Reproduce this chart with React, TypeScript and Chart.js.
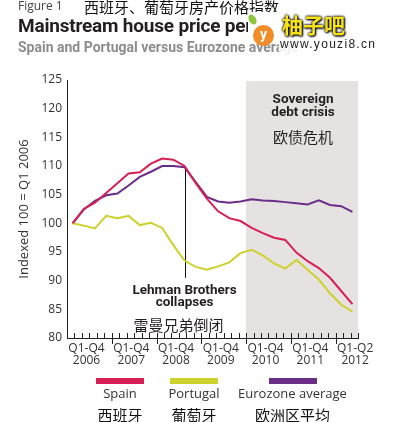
import React, { useEffect, useRef } from "react";
import { Chart, registerables } from "chart.js";

Chart.register(...registerables);

// ---- data ----
const quarters = [
  "Q1 2006", "Q2 2006", "Q3 2006", "Q4 2006",
  "Q1 2007", "Q2 2007", "Q3 2007", "Q4 2007",
  "Q1 2008", "Q2 2008", "Q3 2008", "Q4 2008",
  "Q1 2009", "Q2 2009", "Q3 2009", "Q4 2009",
  "Q1 2010", "Q2 2010", "Q3 2010", "Q4 2010",
  "Q1 2011", "Q2 2011", "Q3 2011", "Q4 2011",
  "Q1 2012", "Q2 2012",
];
const spain = [
  100, 102.5, 103.6, 105.3, 107.0, 108.7, 108.9, 110.4, 111.3, 111.1, 110.0, 107.0, 104.3,
  102.1, 100.9, 100.4, 99.2, 98.3, 97.5, 97.1, 94.9, 93.4, 92.2, 90.5, 88.2, 85.9,
];
const portugal = [
  100, 99.6, 99.1, 101.3, 100.9, 101.3, 99.7, 100.1, 99.2, 96.2, 93.5, 92.4, 91.9,
  92.5, 93.2, 94.8, 95.4, 94.4, 93.0, 92.1, 93.6, 91.9, 90.2, 87.8, 85.8, 84.6,
];
const eurozone = [
  100, 102.4, 103.9, 104.9, 105.2, 106.6, 108.1, 109.0, 110.0, 110.0, 109.8, 107.2, 104.6,
  103.8, 103.6, 103.8, 104.2, 104.0, 103.9, 103.7, 103.5, 103.3, 104.0, 103.2, 103.0, 102.0,
];
const seriesNames = ["Spain", "Portugal", "Eurozone average"];
const seriesNamesZh = ["西班牙", "葡萄牙", "欧洲区平均"];
const seriesColors = ["#d81f55", "#cdd12c", "#6a2d88"];

const yearStarts = [2006, 2007, 2008, 2009, 2010, 2011, 2012];
const yearLabelTop = ["Q1-Q4", "Q1-Q4", "Q1-Q4", "Q1-Q4", "Q1-Q4", "Q1-Q4", "Q1-Q2"];
const yearLabelBottom = ["2006", "2007", "2008", "2009", "2010", "2011", "2012"];
const xMin = 2006;
const xMax = 2012.5;
const yMin = 80;
const yMax = 125;
const yStep = 5;
const minorTicksPerYear = 6;

const crisisStart = 2010;
const lehmanQuarter = "Q3 2008";
const lehmanLineBottom = 90.5;

function quarterToX(q: string): number {
  const [qq, yy] = q.split(" ");
  return Number(yy) + (Number(qq.slice(1)) - 0.5) / 4;
}

const TXT = "#231f20";

const annotPlugin = {
  id: "annot",
  beforeDraw(chart: any) {
    const { ctx, chartArea, scales } = chart;
    const x0 = scales.x.getPixelForValue(crisisStart);
    const x1 = scales.x.getPixelForValue(xMax);
    ctx.save();
    ctx.fillStyle = "#e6e2e2";
    ctx.fillRect(x0, chartArea.top + 1, x1 - x0, chartArea.bottom - chartArea.top - 1);
    ctx.restore();
  },
  beforeDatasetsDraw(chart: any) {
    const { ctx, scales } = chart;
    const idx = quarters.indexOf(lehmanQuarter);
    const lx = Math.round(scales.x.getPixelForValue(quarterToX(lehmanQuarter))) + 0.5;
    ctx.save();
    ctx.strokeStyle = "#111";
    ctx.lineWidth = 1;
    ctx.beginPath();
    ctx.moveTo(lx, scales.y.getPixelForValue(spain[idx]));
    ctx.lineTo(lx, scales.y.getPixelForValue(lehmanLineBottom));
    ctx.stroke();
    ctx.restore();
  },
  afterDraw(chart: any) {
    const { ctx, chartArea, scales } = chart;
    const xs = scales.x;
    const bottom = chartArea.bottom;
    ctx.save();
    // axis ticks
    ctx.strokeStyle = "#222";
    ctx.lineWidth = 1;
    const nTicks = Math.round((xMax - xMin) * minorTicksPerYear);
    for (let k = 1; k <= nTicks; k++) {
      const v = xMin + k / minorTicksPerYear;
      const px = Math.round(xs.getPixelForValue(v)) + 0.5;
      const major = k % minorTicksPerYear === 0;
      ctx.beginPath();
      ctx.moveTo(px, bottom - 5);
      ctx.lineTo(px, major ? bottom + 6 : bottom);
      ctx.stroke();
    }
    // year labels
    ctx.fillStyle = "#333";
    ctx.font = "12px 'Open Sans'";
    ctx.textAlign = "center";
    ctx.textBaseline = "middle";
    yearStarts.forEach((yr, i) => {
      const cx = xs.getPixelForValue(yr) + 19.5;
      ctx.fillText(yearLabelTop[i], cx, bottom + 10.5);
      ctx.fillText(yearLabelBottom[i], cx, bottom + 23);
    });
    // annotations
    const crisisCx = (xs.getPixelForValue(crisisStart) + xs.getPixelForValue(xMax)) / 2 + 1;
    ctx.fillStyle = TXT;
    ctx.font = "bold 13.5px Roboto";
    ctx.fillText("Sovereign", crisisCx, 100);
    ctx.fillText("debt crisis", crisisCx, 112.5);
    ctx.font = "15px 'Noto Sans CJK SC'";
    ctx.fillText("欧债危机", crisisCx, 137);

    const lx = xs.getPixelForValue(quarterToX(lehmanQuarter));
    ctx.font = "bold 13.5px Roboto";
    ctx.fillText("Lehman Brothers", lx, 290.5);
    ctx.fillText("collapses", lx, 302.5);
    ctx.font = "15px 'Noto Sans CJK SC'";
    ctx.fillText("雷曼兄弟倒闭", lx - 6, 325);
    ctx.restore();
  },
};

const abs = (s: React.CSSProperties): React.CSSProperties => ({
  position: "absolute",
  whiteSpace: "nowrap",
  margin: 0,
  ...s,
});

export default function App() {
  const canvasRef = useRef<HTMLCanvasElement | null>(null);

  useEffect(() => {
    if (!canvasRef.current) return;
    const mk = (vals: number[]) => quarters.map((q, i) => ({ x: quarterToX(q), y: vals[i] }));
    const allVals = [spain, portugal, eurozone];
    const chart = new Chart(canvasRef.current, {
      type: "line",
      data: {
        datasets: allVals.map((vals, i) => ({
          label: seriesNames[i],
          data: mk(vals),
          borderColor: seriesColors[i],
          backgroundColor: seriesColors[i],
          borderWidth: 2,
          pointRadius: 0,
          tension: 0,
          fill: false,
        })),
      },
      options: {
        responsive: false,
        animation: false,
        events: [],
        layout: { padding: { top: 80, right: 35, left: 0, bottom: 0 } },
        plugins: {
          legend: { display: false },
          tooltip: { enabled: false },
        },
        scales: {
          x: {
            type: "linear",
            min: xMin,
            max: xMax,
            grid: { display: false, drawTicks: false },
            border: { display: true, color: "#222", width: 1 },
            ticks: { display: false },
            afterFit: (s: any) => {
              s.height = 84;
            },
          },
          y: {
            type: "linear",
            min: yMin,
            max: yMax,
            ticks: {
              stepSize: yStep,
              padding: 5,
              color: "#333",
              font: { family: "'Open Sans'", size: 12 },
            },
            grid: { display: false, drawTicks: false },
            border: { display: true, color: "#222", width: 1 },
            title: {
              display: true,
              text: "Indexed 100 = Q1 2006",
              color: "#333",
              font: { family: "'Open Sans'", size: 13 },
              padding: { top: 16, bottom: 0 },
            },
            afterFit: (s: any) => {
              s.width = 67;
            },
          },
        },
      } as any,
      plugins: [annotPlugin],
    });
    return () => chart.destroy();
  }, []);

  const legendCenters = [120, 194, 292.5];

  return (
    <div style={{ position: "absolute", left: 0, top: 0, width: 393, height: 422, background: "#fff", overflow: "hidden" }}>
      <canvas ref={canvasRef} width={393} height={422} style={{ position: "absolute", left: 0, top: 0 }} />
      {/* titles */}
      <div style={abs({ left: 18, top: 0, font: "12px 'Open Sans'", lineHeight: "12px", color: "#444" })}>Figure 1</div>
      <div style={abs({ left: 84, top: -1, font: "15px 'Noto Sans CJK SC'", lineHeight: "15px", color: "#111" })}>西班牙、葡萄牙房产价格指数</div>
      <div style={abs({ left: 18, top: 16, font: "bold 19px Roboto", lineHeight: "19px", color: TXT, letterSpacing: "-0.2px" })}>
        Mainstream house price performance
      </div>
      <div style={abs({ left: 18, top: 40, font: "bold 14px Roboto", lineHeight: "14px", color: "#8c8c8c" })}>
        Spain and Portugal versus Eurozone average
      </div>
      {/* watermark */}
      <div style={abs({ left: 248, top: 12, width: 145, height: 27, background: "#fff" })} />
      <div style={abs({ left: 279, top: 39, width: 114, height: 16, background: "rgba(255,255,255,0.88)" })} />
      <div style={abs({ left: 249, top: 14, width: 7, height: 11, borderRadius: "50%", background: "#8cc63f", transform: "rotate(-30deg)" })} />
      <div
        style={abs({
          left: 253, top: 25, width: 21, height: 21, borderRadius: "50%", background: "#f28c28",
          color: "#fff", font: "bold 14px Roboto", lineHeight: "19px", textAlign: "center",
        })}
      >
        y
      </div>
      <div
        style={abs({
          left: 282, top: 12, font: "bold 21px 'Noto Sans CJK SC'", lineHeight: "24px", color: "#f7e21b",
          textShadow: "0 0 2px #000, 0 0 3px #000, 1px 1px 2px #000",
        })}
      >
        柚子吧
      </div>
      <div style={abs({ left: 280, top: 37, font: "12px 'Liberation Sans'", lineHeight: "14px", color: "#222", letterSpacing: "1.3px" })}>
        www.youzi8.cn
      </div>
      {/* legend */}
      {seriesNames.map((name, i) => (
        <React.Fragment key={name}>
          <div style={abs({ left: legendCenters[i] - 24, top: 378, width: 48, height: 6, background: seriesColors[i] })} />
          <div style={abs({ left: legendCenters[i], top: 386.5, transform: "translateX(-50%)", font: "13px 'Open Sans'", lineHeight: "13px", color: "#333" })}>
            {name}
          </div>
          <div style={abs({ left: legendCenters[i], top: 406.5, transform: "translateX(-50%)", font: "15px 'Noto Sans CJK SC'", lineHeight: "15px", color: "#111" })}>
            {seriesNamesZh[i]}
          </div>
        </React.Fragment>
      ))}
    </div>
  );
}
